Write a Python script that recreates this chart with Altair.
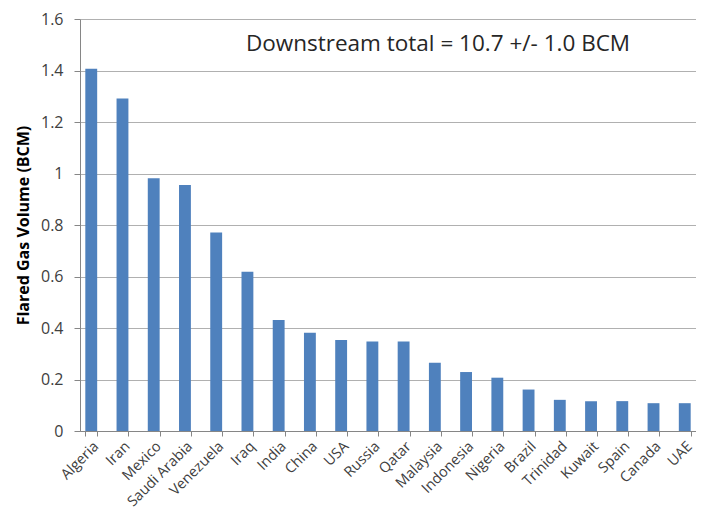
import altair as alt
import pandas as pd

countries = ["Algeria", "Iran", "Mexico", "Saudi Arabia", "Venezuela", "Iraq", "India",
             "China", "USA", "Russia", "Qatar", "Malaysia", "Indonesia", "Nigeria",
             "Brazil", "Trinidad", "Kuwait", "Spain", "Canada", "UAE"]
volumes = [1.407, 1.291, 0.982, 0.955, 0.771, 0.618, 0.431, 0.382, 0.353, 0.348,
           0.348, 0.265, 0.229, 0.207, 0.161, 0.121, 0.116, 0.116, 0.108, 0.108]
y_ticks = [0, 0.2, 0.4, 0.6, 0.8, 1.0, 1.2, 1.4, 1.6]
annotation = "Downstream total = 10.7 +/- 1.0 BCM"
y_title = "Flared Gas Volume (BCM)"

df = pd.DataFrame({"country": countries, "volume": volumes})
FONT = "Open Sans"

bars = alt.Chart(df).mark_bar(color="#4F81BD").encode(
    x=alt.X("country:N", sort=countries, title=None,
            scale=alt.Scale(paddingInner=0.62, paddingOuter=0.17),
            axis=alt.Axis(labelAngle=-45, labelFontSize=14.5, labelColor="#404040",
                          labelFont=FONT, domainColor="#868686", tickColor="#868686",
                          tickBand="extent", tickSize=5, labelPadding=3,
                          labelAlign="right", labelBaseline="top")),
    y=alt.Y("volume:Q", title=y_title,
            scale=alt.Scale(domain=[0, 1.6], nice=False),
            axis=alt.Axis(values=y_ticks,
                          format="~g", labelFontSize=16, labelColor="#404040",
                          labelFont=FONT, grid=True, gridColor="#B0B0B0",
                          domainColor="#868686", tickColor="#868686", tickSize=6,
                          labelPadding=11,
                          titleFont=FONT, titleFontSize=16, titleFontWeight="bold",
                          titleColor="#000000", titlePadding=9)),
)

note = alt.Chart(pd.DataFrame({"t": [annotation]})).mark_text(
    font=FONT, fontSize=22.5, color="#262626", align="center", baseline="alphabetic"
).encode(text="t:N", x=alt.value(358), y=alt.value(32))

chart = (bars + note).properties(
    width=616, height=412,
    autosize="none",
    padding={"left": 72, "top": 11, "right": 0, "bottom": 78},
).configure_view(stroke=None).configure(background="white")

chart.save("out.html", embed_options={"renderer": "svg", "actions": False})
